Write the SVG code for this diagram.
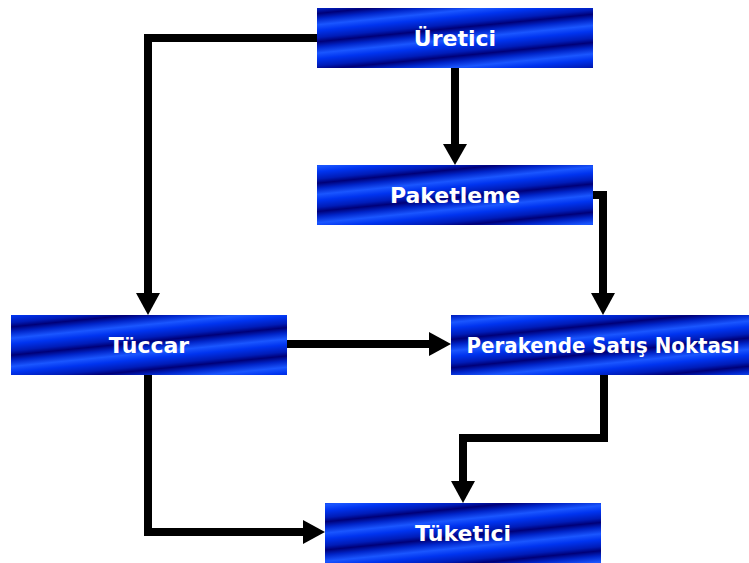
<svg xmlns="http://www.w3.org/2000/svg" width="749" height="563" viewBox="0 0 749 563">
<style>
.box{fill:url(#stripe)}
.lbl{fill:#ffffff;font-family:"DejaVu Sans","Liberation Sans",sans-serif;font-weight:bold;font-size:22px;text-anchor:middle}
.cond{font-family:"DejaVu Sans Condensed","DejaVu Sans",sans-serif;font-stretch:condensed}
.con{fill:none;stroke:#000;stroke-width:8;stroke-linejoin:miter}
.ah{fill:#000}
</style>
<defs>
<linearGradient id="stripe" gradientUnits="userSpaceOnUse" x1="0" y1="0" x2="2.8" y2="28" spreadMethod="repeat">
<stop offset="0" stop-color="#1a56ff"/>
<stop offset="0.2" stop-color="#0034f0"/>
<stop offset="0.45" stop-color="#001cb8"/>
<stop offset="0.6" stop-color="#000078"/>
<stop offset="0.78" stop-color="#0024c8"/>
<stop offset="1" stop-color="#1a56ff"/>
</linearGradient>
</defs>
<g id="connectors">
<path class="con" d="M317,38 H148 V294"/>
<path class="ah" d="M136,293 L160,293 L148,315 Z"/>
<path class="con" d="M455,68 V145"/>
<path class="ah" d="M443,144 L467,144 L455,165 Z"/>
<path class="con" d="M593,195 H603 V294"/>
<path class="ah" d="M591,293 L615,293 L603,315 Z"/>
<path class="con" d="M287,344 H430"/>
<path class="ah" d="M429,332 L429,356 L451,344 Z"/>
<path class="con" d="M148,375 V532 H304"/>
<path class="ah" d="M303,520 L303,544 L325,532 Z"/>
<path class="con" d="M604,375 V438 H463 V482"/>
<path class="ah" d="M451,481 L475,481 L463,503 Z"/>
</g>
<g id="uretici"><rect class="box" x="317" y="8" width="276" height="60"/><text class="lbl" x="455" y="46">Üretici</text></g>
<g id="paketleme"><rect class="box" x="317" y="165" width="276" height="60"/><text class="lbl" x="455" y="203">Paketleme</text></g>
<g id="tuccar"><rect class="box" x="11" y="315" width="276" height="60"/><text class="lbl" x="149" y="353">Tüccar</text></g>
<g id="perakende"><rect class="box" x="451" y="315" width="298" height="60"/><text class="lbl cond" x="603" y="353">Perakende Satış Noktası</text></g>
<g id="tuketici"><rect class="box" x="325" y="503" width="276" height="60"/><text class="lbl" x="463" y="541">Tüketici</text></g>
</svg>
